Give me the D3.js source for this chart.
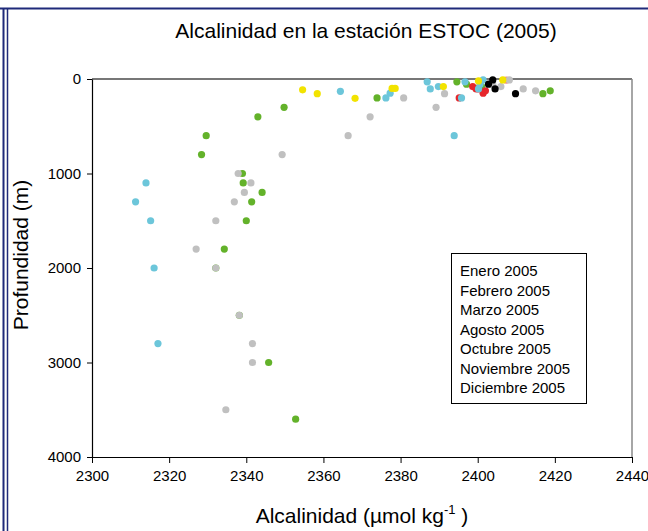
<!DOCTYPE html>
<html><head><meta charset="utf-8">
<script src="https://cdn.jsdelivr.net/npm/d3@7"></script>
<style>
html,body{margin:0;padding:0;background:#fff;}
svg{display:block;font-family:"Liberation Sans",Arial,sans-serif;}
</style></head>
<body>
<svg id="chart" width="648" height="531"></svg>
<script>
// ---- data ----
const months = ["Enero 2005","Febrero 2005","Marzo 2005","Agosto 2005","Octubre 2005","Noviembre 2005","Diciembre 2005"];
const xTicks = [2300,2320,2340,2360,2380,2400,2420,2440];
const yTicks = [0,1000,2000,3000,4000];

const eneroAlk   = [2314.0,2311.3,2315.2,2316.1,2317.1,2393.9,2364.4,2376.2,2377.3,2386.9,2387.7,2389.8,2395.8,2396.7,2400.2,2400.6,2401.4];
const eneroDep   = [1100,1300,1500,2000,2800,600,130,200,150,30,105,80,200,30,105,55,10];
const febreroAlk = [2352.8,2345.8,2338.2,2332.1,2334.3,2340.0,2341.4,2344.1,2339.2,2339.0,2328.4,2329.6,2343.0,2349.8,2373.9,2394.6,2397.1,2401.0,2416.9,2418.8];
const febreroDep = [3600,3000,2500,2000,1800,1500,1300,1200,1100,1000,800,600,400,300,200,30,55,80,155,125];
const marzoAlk   = [2334.7,2341.6,2341.6,2338.2,2332.1,2327.0,2332.1,2336.9,2339.5,2341.2,2337.9,2349.3,2366.4,2372.1,2389.2,2380.8,2391.4,2403.9,2406.0,2408.2,2411.8,2415.0];
const marzoDep   = [3500,3000,2800,2500,2000,1800,1500,1300,1200,1100,1000,800,600,400,300,200,155,55,80,10,105,125];
const agostoAlk  = [2354.6,2358.4,2368.2,2377.8,2378.6,2391.1,2400.2,2406.5];
const agostoDep  = [115,155,205,100,100,80,20,10];
const octubreAlk = [2395.2,2398.7,2399.6,2400.2,2401.4,2402.0];
const octubreDep = [200,80,105,105,150,125];
const noviembreAlk = [2402.8,2403.9,2404.5,2409.8];
const noviembreDep = [55,10,105,155];
const diciembreAlk = [2407.4];
const diciembreDep = [12];

const seriesAlk = [eneroAlk,febreroAlk,marzoAlk,agostoAlk,octubreAlk,noviembreAlk,diciembreAlk];
const seriesDep = [eneroDep,febreroDep,marzoDep,agostoDep,octubreDep,noviembreDep,diciembreDep];
const colors = ["#6cc6da","#63b22a","#c0c0c0","#f2e300","#e6262b","#000000","#f08a80"];
const drawOrder = [6,1,2,4,0,3,5];

// ---- layout ----
const svg = d3.select("#chart");
const L = 92, R = 632, T = 79, B = 457;
const x = d3.scaleLinear().domain([2300,2440]).range([L,R]);
const y = d3.scaleLinear().domain([0,4000]).range([T,B]);

// page border (navy)
svg.append("line").attr("x1",0).attr("x2",648).attr("y1",8.5).attr("y2",8.5).attr("stroke","#1f2a7a").attr("stroke-width",2);
svg.append("line").attr("x1",3.5).attr("x2",3.5).attr("y1",8).attr("y2",531).attr("stroke","#1f2a7a").attr("stroke-width",2);
svg.append("line").attr("x1",7.5).attr("x2",7.5).attr("y1",8).attr("y2",531).attr("stroke","#1f2a7a").attr("stroke-width",1.5);

// title
svg.append("text").attr("x",366).attr("y",38).attr("text-anchor","middle")
  .attr("font-size",21).attr("fill","#000").text("Alcalinidad en la estación ESTOC (2005)");

// plot frame: top and right gray
svg.append("line").attr("x1",L).attr("x2",R).attr("y1",T).attr("y2",T).attr("stroke","#777").attr("stroke-width",2);
svg.append("line").attr("x1",R).attr("x2",R).attr("y1",T).attr("y2",B).attr("stroke","#888").attr("stroke-width",1.5);

// axes
const xAxis = d3.axisBottom(x).tickValues(xTicks).tickFormat(d3.format("d")).tickSize(6).tickSizeOuter(0);
const gx = svg.append("g").attr("transform",`translate(0,${B})`).call(xAxis);
gx.select(".domain").attr("stroke","#000").attr("stroke-width",1.2);
gx.selectAll(".tick line").attr("stroke","#000");
gx.selectAll(".tick text").attr("font-size",15).attr("font-family","Liberation Sans, Arial, sans-serif").attr("fill","#000").attr("y",13);

const yAxis = d3.axisLeft(y).tickValues(yTicks).tickFormat(d3.format("d")).tickSize(5).tickSizeOuter(0);
const gy = svg.append("g").attr("transform",`translate(${L},0)`).call(yAxis);
gy.select(".domain").attr("stroke","#000").attr("stroke-width",1.2);
gy.selectAll(".tick line").attr("stroke","#000");
gy.selectAll(".tick text").attr("font-size",15).attr("font-family","Liberation Sans, Arial, sans-serif").attr("fill","#000").attr("x",-11);

// axis titles
svg.append("text").attr("transform","translate(28,255) rotate(-90)").attr("text-anchor","middle")
  .attr("font-size",21).attr("fill","#000").text("Profundidad (m)");
const xt = svg.append("text").attr("x",362).attr("y",523).attr("text-anchor","middle").attr("font-size",21).attr("fill","#000");
xt.append("tspan").text("Alcalinidad (µmol kg");
xt.append("tspan").attr("dy",-9).attr("font-size",13).text("-1");
xt.append("tspan").attr("dy",9).text(" )");

// points
const plot = svg.append("g");
drawOrder.forEach(si => {
  const pts = seriesAlk[si].map((v,i)=>({v, d: seriesDep[si][i]}));
  plot.selectAll(null).data(pts).enter().append("circle")
    .attr("cx",p=>x(p.v)).attr("cy",p=>y(p.d)).attr("r",3.6)
    .attr("fill",colors[si]);
});

// legend
const lg = svg.append("g");
lg.append("rect").attr("x",451.5).attr("y",253.5).attr("width",135).attr("height",150)
  .attr("fill","#fff").attr("stroke","#000").attr("stroke-width",1);
months.forEach((m,i)=>{
  lg.append("text").attr("x",460).attr("y",276+i*19.5).attr("font-size",15).attr("fill","#000").text(m);
});
</script>
</body></html>
